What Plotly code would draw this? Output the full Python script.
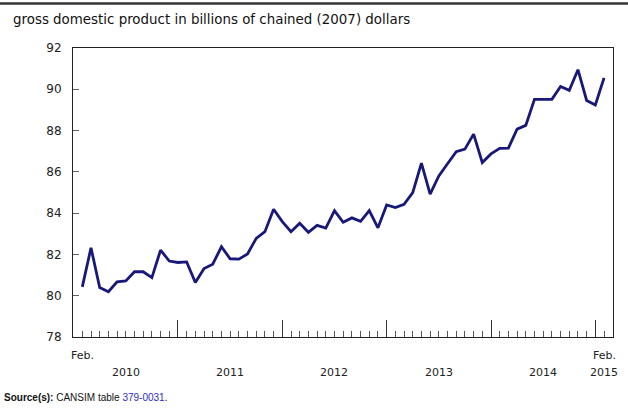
import plotly.graph_objects as go

# Monthly GDP, Feb 2010 .. Feb 2015 (billions of chained 2007 dollars)
months = list(range(61))  # 0 = Feb 2010
gdp = [80.43, 82.32, 80.40, 80.19, 80.67, 80.72, 81.16, 81.16, 80.88, 82.21,
       81.68, 81.61, 81.64, 80.64, 81.32, 81.53, 82.37, 81.79, 81.77, 82.02,
       82.78, 83.10, 84.19, 83.59, 83.10, 83.51, 83.07, 83.41, 83.28, 84.12,
       83.56, 83.77, 83.60, 84.12, 83.29, 84.40, 84.27, 84.43, 84.99, 86.42,
       84.92, 85.80, 86.39, 86.98, 87.10, 87.83, 86.45, 86.87, 87.14, 87.15,
       88.07, 88.25, 89.51, 89.51, 89.51, 90.14, 89.95, 90.95, 89.46, 89.24,
       90.55]

year_labels = ["2010", "2011", "2012", "2013", "2014", "2015"]
year_label_pos = [5, 17, 29, 41, 53, 60]
january_ticks = [11, 23, 35, 47, 59]
feb_label_pos = [0, 60]
y_ticks = [78, 80, 82, 84, 86, 88, 90, 92]

W, H = 628, 416
L, R, T, B = 73, 15, 48, 79
PW, PH = W - L - R, H - T - B

def px(x):
    return (x - L) / PW

def py(y):
    return (H - B - y) / PH

fig = go.Figure()
fig.add_trace(go.Scatter(x=months, y=gdp, mode="lines",
                         line=dict(color="#18187a", width=2.8),
                         hoverinfo="skip", showlegend=False))

fig.update_layout(
    width=W, height=H,
    margin=dict(l=L, r=R, t=T, b=B),
    paper_bgcolor="white", plot_bgcolor="white",
    font=dict(family="DejaVu Sans", size=11, color="#222"),
    xaxis=dict(range=[-1.07, 61.03], showgrid=False, zeroline=False,
               showline=True, linecolor="#222", linewidth=1, mirror=True,
               tickmode="array", tickvals=january_ticks,
               ticktext=[""] * len(january_ticks),
               ticks="inside", ticklen=17, tickwidth=1, tickcolor="#333",
               minor=dict(tickmode="linear", tick0=0, dtick=1,
                          ticks="inside", ticklen=6, tickwidth=1,
                          tickcolor="#555", showgrid=False),
               fixedrange=True),
    yaxis=dict(range=[78, 92], showgrid=False, zeroline=False,
               showline=True, linecolor="#222", linewidth=1, mirror=True,
               tickmode="array", tickvals=y_ticks,
               ticks="inside", ticklen=6, tickwidth=1, tickcolor="#666",
               ticklabelstandoff=8,
               tickfont=dict(family="DejaVu Sans", size=12, color="#222"),
               fixedrange=True),
)

ann = []
for x in feb_label_pos:
    ann.append(dict(x=x, y=-18 / PH, xref="x", yref="paper", text="Feb.",
                    showarrow=False, xanchor="center", yanchor="middle",
                    font=dict(family="DejaVu Sans", size=11, color="#222")))
for x, t in zip(year_label_pos, year_labels):
    ann.append(dict(x=x, y=-35 / PH, xref="x", yref="paper", text=t,
                    showarrow=False, xanchor="center", yanchor="middle",
                    font=dict(family="DejaVu Sans", size=11, color="#222")))
ann.append(dict(x=px(11), y=py(19), xref="paper", yref="paper",
                text="gross domestic product in billions of chained (2007) dollars",
                showarrow=False, xanchor="left", yanchor="middle",
                font=dict(family="DejaVu Sans", size=13.4, color="#111")))
ann.append(dict(x=px(2), y=py(397), xref="paper", yref="paper",
                text="<b>Source(s):</b> CANSIM table <span style='color:#2b2bd0'>379-0031</span>.",
                showarrow=False, xanchor="left", yanchor="middle",
                font=dict(family="Liberation Sans", size=10, color="#111")))
fig.update_layout(annotations=ann)

fig.add_shape(type="line", xref="paper", yref="paper", layer="above",
              x0=px(0), x1=px(W), y0=py(3.5), y1=py(3.5),
              line=dict(color="#333", width=2.5))

fig.write_html("out.html",
               config={"displayModeBar": False, "staticPlot": True},
               post_script="document.body.style.margin='0';document.body.style.padding='0';")
